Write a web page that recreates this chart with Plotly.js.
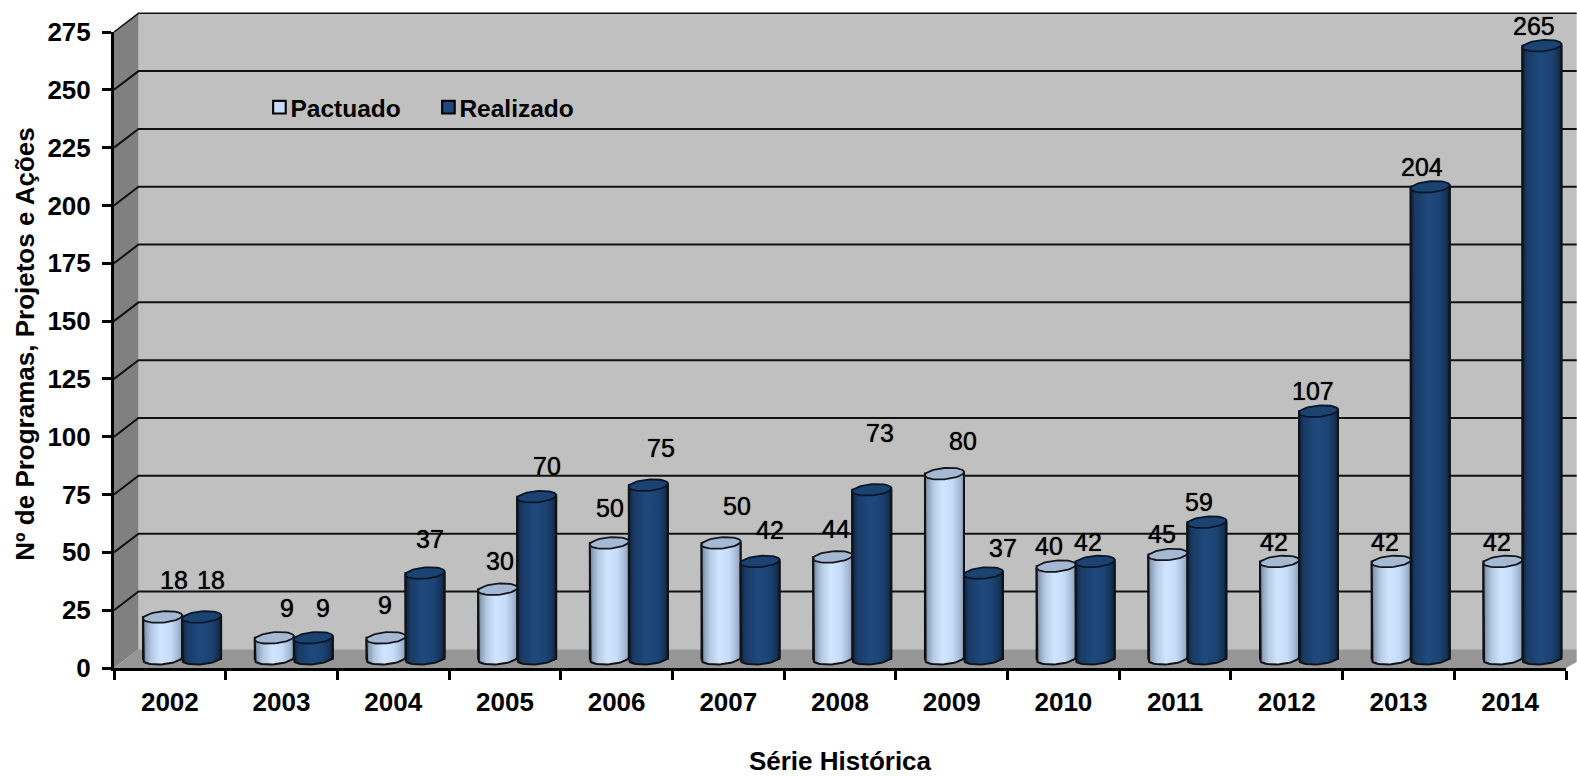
<!DOCTYPE html>
<html><head><meta charset="utf-8">
<script src="https://cdn.plot.ly/plotly-3.0.1.min.js"></script>
<style>html,body{margin:0;padding:0;background:#fff}#c{width:1577px;height:776px}</style></head>
<body><div id="c"></div>
<script>
const years = ['2002','2003','2004','2005','2006','2007','2008','2009','2010','2011','2012','2013','2014'];
const pactuado = [18,9,9,30,50,50,44,80,40,45,42,42,42];
const realizado = [18,9,37,70,75,42,73,37,42,59,107,204,265];
const yTicks = [0,25,50,75,100,125,150,175,200,225,250,275];

// data-label nudges (px from the top of each cylinder)
const pactLabelDx = [11,13,-1,2,1,16,3,19,-7,-6,-6,-6,-6];
const pactLabelUp = [46,39,42,38,44,46,37,42,29,30,29,29,29];
const realLabelDx = [9,10,5,10,13,10,8,20,-7,-8,-6,-8,-8];
const realLabelUp = [46,39,43,40,47,41,66,34,29,30,29.5,29.5,29];

const W=1577,H=776, L=113.5,T=32.3,B=667.7,R=1566.3;
const pxPerCat=(R-L)/13, pxPerVal=(B-T)/275;
const depthX=24.5, depthY=18.7, backRight=1577, backTop=T-depthY;
const midX=depthX/2, midY=depthY/2;           // cylinders stand mid-depth
const cylW=39, rx=19.5, ry=5.6, tilt=1.6;

const px=x=>(x-L)/(R-L), py=y=>(B-y)/(B-T);
const toX=p=>(p-L)/pxPerCat-0.5, toY=p=>(B-p)/pxPerVal;
const valPx=v=>B-v*pxPerVal;

const lightScale=[[0,'#6c7c91'],[0.08,'#90a3bb'],[0.22,'#b6cae4'],[0.45,'#d0e5ff'],[0.7,'#c6dcf8'],[0.88,'#a9bdd9'],[1,'#8a9cb8']];
const darkScale=[[0,'#0c213c'],[0.12,'#193a64'],[0.45,'#1f497d'],[0.75,'#1c4272'],[0.92,'#143156'],[1,'#0c2039']];

function arc(cx,cy,t0,t1,n){const xs=[],ys=[];for(let k=0;k<=n;k++){const t=t0+(t1-t0)*k/n;
  xs.push(cx+rx*Math.cos(t));ys.push(cy-ry*Math.sin(t)-tilt*Math.cos(t));}return [xs,ys];}

function cylinder(i,v,side,scale,topColor,lineColor){
  const cx=L+pxPerCat*(i+0.5)+midX+(side===0?-cylW/2:cylW/2);
  const top=valPx(v)-midY, bot=B-midY;
  const [bx,by]=arc(cx,bot,Math.PI,2*Math.PI,24);
  const [tx,ty]=arc(cx,top,0,2*Math.PI,48);
  const body={type:'scatter',xaxis:'x2',yaxis:'y',mode:'lines',fill:'toself',showlegend:false,hoverinfo:'skip',cliponaxis:false,
    x:[cx-rx,...bx,cx+rx,cx-rx].map(toX),
    y:[top+tilt,...by,top-tilt,top+tilt].map(toY),
    line:{color:'#101316',width:2},fillgradient:{type:'horizontal',colorscale:scale}};
  const cap={type:'scatter',xaxis:'x2',yaxis:'y',mode:'lines',fill:'toself',showlegend:false,hoverinfo:'skip',cliponaxis:false,
    x:tx.map(toX),y:ty.map(toY),line:{color:lineColor,width:1.8},fillcolor:topColor};
  return [body,cap];
}

const barW=cylW/pxPerCat, baseVal=midY/pxPerVal, shiftCat=midX/pxPerCat;
const traces=[
 {type:'bar',name:'Pactuado',x:years,y:pactuado,base:baseVal,width:barW,offset:shiftCat-barW,
  marker:{color:'#c6dcf8',line:{color:'#000',width:2}},hoverinfo:'skip'},
 {type:'bar',name:'Realizado',x:years,y:realizado,base:baseVal,width:barW,offset:shiftCat,
  marker:{color:'#1f497d',line:{color:'#000',width:2}},hoverinfo:'skip'}
];
years.forEach((y,i)=>{
  traces.push(...cylinder(i,pactuado[i],0,lightScale,'#a6b9d2','#14181e'));
  traces.push(...cylinder(i,realizado[i],1,darkScale,'#1b4270','#081628'));
});

// walls, floor and gridlines
const shapes=[];
const poly=(pts,fill)=>shapes.push({type:'path',xref:'paper',yref:'paper',layer:'below',fillcolor:fill,line:{width:0},
  path:pts.map((p,k)=>(k?'L':'M')+px(p[0])+' '+py(p[1])).join(' ')+' Z'});
poly([[L+depthX,backTop],[backRight,backTop],[backRight,B-depthY],[L+depthX,B-depthY]],'#c0c0c0');
poly([[L,B],[L+depthX,B-depthY],[backRight,B-depthY],[backRight,B-6],[R,B]],'#969696');
poly([[L,T],[L+depthX,backTop],[L+depthX,B-depthY],[L,B]],'#808080');
yTicks.filter(t=>t>0).forEach(t=>{
  const yp=valPx(t);
  shapes.push({type:'path',xref:'paper',yref:'paper',layer:'below',line:{color:'#111',width:t===275?1.5:2},
    path:`M${px(L)} ${py(yp)} L${px(L+depthX)} ${py(yp-depthY)} L${px(backRight)} ${py(yp-depthY)}`});
});

const annotations=[];
const addLabels=(vals,side,dx,up)=>vals.forEach((v,i)=>{
  const centre=i+shiftCat+(side===0?-barW/2:barW/2);
  annotations.push({xref:'x2',yref:'y',x:centre,y:v,xshift:dx[i],yshift:up[i],text:String(v),showarrow:false,
    xanchor:'center',yanchor:'middle',font:{family:'"Liberation Sans",Arial,sans-serif',size:25,color:'#000',shadow:'0 0 1px rgba(0,0,0,0.9)'}});
});
addLabels(pactuado,0,pactLabelDx,pactLabelUp);
addLabels(realizado,1,realLabelDx,realLabelUp);

const bold='"Liberation Sans",Arial,sans-serif';
const layout={
  width:W,height:H,paper_bgcolor:'#fff',plot_bgcolor:'rgba(0,0,0,0)',showlegend:true,hovermode:false,barmode:'overlay',
  margin:{l:L,r:W-R,t:T,b:H-B,pad:0,autoexpand:false},
  font:{family:bold,color:'#000'},
  xaxis:{type:'category',categoryorder:'array',categoryarray:years,range:[-0.5,12.5],tickson:'boundaries',ticks:'outside',ticklen:9,tickwidth:2.5,tickcolor:'#000',
    showline:true,linecolor:'#000',linewidth:3,showgrid:false,zeroline:false,automargin:false,ticklabelstandoff:9,
    tickfont:{family:bold,size:26,color:'#000',weight:'bold'},
    title:{text:'Série Histórica',standoff:45,font:{family:bold,size:26,color:'#000',weight:'bold'}}},
  xaxis2:{overlaying:'x',anchor:'y',range:[-0.5,12.5],visible:false},
  yaxis:{range:[0,275],tickvals:yTicks,ticks:'outside',ticklen:9,tickwidth:2.5,tickcolor:'#000',
    showline:true,linecolor:'#000',linewidth:3,showgrid:false,zeroline:false,automargin:false,ticklabelstandoff:6,
    tickfont:{family:bold,size:26,color:'#000',weight:'bold'},
    title:{text:'Nº de Programas, Projetos e Ações',standoff:6,font:{family:bold,size:26,color:'#000',weight:'bold'}}},
  legend:{orientation:'h',xref:'paper',yref:'paper',x:px(250),y:py(85),xanchor:'left',yanchor:'top',bgcolor:'rgba(0,0,0,0)',
    entrywidth:124,entrywidthmode:'pixels',font:{family:bold,size:24.5,color:'#000',weight:'bold'},traceorder:'normal',itemclick:false,itemdoubleclick:false},
  shapes,annotations
};
Plotly.newPlot('c',traces,layout,{displayModeBar:false,responsive:false}).then(()=>{
  document.querySelectorAll('#c .legendsymbols').forEach(e=>e.setAttribute('transform','translate(8,0) scale(1.05)'));
  const yt=document.querySelector('#c .ytitle');
  if(yt) yt.setAttribute('transform','translate(0,-6) '+(yt.getAttribute('transform')||''));
});
</script></body></html>
